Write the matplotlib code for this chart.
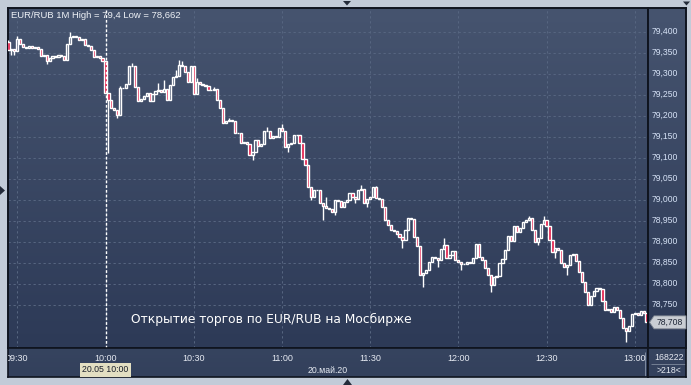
import numpy as np
import pandas as pd
import matplotlib
matplotlib.use("Agg")
import matplotlib.pyplot as plt
import matplotlib.dates as mdates
from matplotlib.colors import to_rgb
from matplotlib.patches import Polygon

# EUR/RUB, 1 minute candles, 20.05.2020 starting 09:27
first_open = 79.375
closes = [
    79.356, 79.359, 79.354, 79.383, 79.371, 79.364, 79.361, 79.366, 79.361, 79.364,
    79.359, 79.342, 79.345, 79.330, 79.337, 79.342, 79.340, 79.345, 79.342, 79.333,
    79.371, 79.387, 79.390, 79.387, 79.380, 79.383, 79.368, 79.366, 79.356, 79.340,
    79.342, 79.337, 79.330, 79.254, 79.237, 79.218, 79.214, 79.202, 79.266, 79.266,
    79.275, 79.318, 79.318, 79.268, 79.235, 79.240, 79.247, 79.254, 79.235, 79.252,
    79.259, 79.261, 79.256, 79.264, 79.237,
    79.273, 79.292, 79.295, 79.321, 79.318,
    79.304, 79.280, 79.318, 79.252, 79.280, 79.275, 79.273, 79.271, 79.261, 79.261,
    79.264, 79.237, 79.218, 79.183, 79.187, 79.190, 79.187, 79.159, 79.159, 79.135,
    79.137, 79.133, 79.106, 79.114, 79.142, 79.128, 79.133, 79.164, 79.164, 79.147,
    79.152, 79.149, 79.171, 79.164, 79.126, 79.133, 79.135, 79.154, 79.154, 79.135,
    79.097, 79.083, 79.030, 79.006,
    79.023, 79.023, 78.992, 78.985, 78.980, 78.978,
    78.971, 78.999, 78.997, 78.983, 78.995, 78.999, 79.016, 79.006, 79.002, 79.023,
    79.025, 78.992, 79.002, 79.006, 79.030, 79.004, 79.002, 78.983, 78.952, 78.940,
    78.928, 78.925, 78.918, 78.911, 78.904, 78.928, 78.957, 78.954, 78.911, 78.890,
    78.821, 78.826, 78.833, 78.852, 78.864, 78.861, 78.857, 78.883, 78.892, 78.861,
    78.868, 78.878, 78.857, 78.852, 78.847, 78.847, 78.852, 78.850,
    78.861, 78.895,
    78.864, 78.857, 78.838, 78.821, 78.797, 78.816, 78.818, 78.850, 78.859, 78.880,
    78.914, 78.902, 78.937, 78.923, 78.933, 78.947, 78.952, 78.957, 78.928, 78.899,
    78.909, 78.942, 78.952, 78.937, 78.904, 78.876, 78.885, 78.880, 78.850, 78.840,
    78.845, 78.868, 78.871, 78.854, 78.828, 78.804, 78.780, 78.749, 78.771, 78.783,
    78.790, 78.787, 78.759, 78.737, 78.740, 78.733, 78.745, 78.737, 78.718, 78.694,
    78.687, 78.699, 78.728, 78.730, 78.725, 78.735, 78.730, 78.708,
]
# wicks that stick out of the body (candle index -> price)
highs = {0: 79.380, 3: 79.390, 21: 79.400, 38: 79.271, 42: 79.325, 51: 79.278,
         53: 79.285, 57: 79.309, 58: 79.333, 59: 79.330, 64: 79.290, 70: 79.268,
         75: 79.195, 88: 79.173, 93: 79.180, 108: 79.006, 120: 79.035, 125: 79.033,
         148: 78.909, 177: 78.961, 182: 78.961}
lows = {1: 79.345, 2: 79.345, 13: 79.322, 34: 79.111, 37: 79.195, 83: 79.095,
        95: 79.114, 103: 78.999, 107: 78.952, 111: 78.964, 118: 78.992, 122: 78.983,
        134: 78.885, 141: 78.792, 146: 78.840, 154: 78.833, 164: 78.780, 180: 78.892,
        186: 78.861, 190: 78.821, 210: 78.662}

price_levels = [79.40, 79.35, 79.30, 79.25, 79.20, 79.15, 79.10, 79.05, 79.00,
                78.95, 78.90, 78.85, 78.80, 78.75]
time_labels = ["09:30", "10:00", "10:30", "11:00", "11:30", "12:00", "12:30", "13:00"]
last_price = 78.708

W, H = 691, 385
BG_TOP, BG_BOT = "#46546f", "#2d3a57"
RED = "#e2103f"
GRID = "#566580"
EDGE = "#0f141f"


def box(x0, y0, x1, y1):
    # pixel box -> figure fraction
    return [x0 / W, 1 - y1 / H, (x1 - x0) / W, (y1 - y0) / H]


def paint(ax, top, bottom, lw=1.0):
    c0, c1 = np.array(to_rgb(top)), np.array(to_rgb(bottom))
    t = np.linspace(0, 1, 256)[:, None]
    img = (c0 * (1 - t) + c1 * t)[:, None, :]
    ax.imshow(img, extent=[0, 1, 0, 1], transform=ax.transAxes, aspect="auto",
              zorder=0, interpolation="bilinear")
    ax.set_xticks([])
    ax.set_yticks([])
    for s in ax.spines.values():
        s.set_color(EDGE)
        s.set_linewidth(lw)


fig = plt.figure(figsize=(W / 100, H / 100), dpi=100)
fig.patch.set_facecolor("#c2cbd8")

day = "2020-05-20 "
times = pd.date_range(day + "09:27", periods=len(closes), freq="min")
x = mdates.date2num(times)
t0 = mdates.date2num(pd.Timestamp(day + "09:30"))
one_min = 1 / 1440
xlim = (t0 - 3.16 * one_min, t0 + 214.5 * one_min)
ylim = (79.4755 - 348 / 420, 79.4755 - 8 / 420)
tick_x = [mdates.date2num(pd.Timestamp(day + s)) for s in time_labels]

ax = fig.add_axes(box(8, 8, 648, 348))
paint(ax, BG_TOP, BG_BOT, lw=1.4)

for lv in price_levels:
    ax.axhline(lv, color=GRID, lw=0.75, ls=(0, (2.2, 2.6)), zorder=1)
for tx in tick_x:
    ax.axvline(tx, color=GRID, lw=0.75, ls=(0, (2.2, 2.6)), zorder=1)

opens = [first_open] + closes[:-1]
w = 0.74 * one_min
for i, (xi, o, c) in enumerate(zip(x, opens, closes)):
    lo, hi = min(o, c), max(o, c)
    if i in highs and highs[i] > hi:
        ax.vlines(xi, hi, highs[i], color="white", lw=1.0, zorder=3)
    if i in lows and lows[i] < lo:
        ax.vlines(xi, lows[i], lo, color="white", lw=1.0, zorder=3)
    fc = RED if c < o else "none"
    ax.bar(xi, max(hi - lo, 0.0006), bottom=lo, width=w, facecolor=fc,
           edgecolor="white", linewidth=1.0, zorder=4)

# cursor on the 10:00 candle
ax.axvline(tick_x[1], color="white", lw=1.0, ls=(0, (2, 1.4)), zorder=5)
ax.set_xlim(xlim)
ax.set_ylim(ylim)

ax.text(0.004, 0.978, "EUR/RUB 1M High = 79,4 Low = 78,662", transform=ax.transAxes,
        fontsize=6.8, color="#eef1f6", family="Liberation Sans", va="center", zorder=6)
fig.text(271.7 / W, 1 - 319 / H, "Открытие торгов по EUR/RUB на Мосбирже",
         fontsize=8.8, color="white", ha="center", va="center")

# right price scale
ax_r = fig.add_axes(box(648, 8, 686, 348))
paint(ax_r, BG_TOP, BG_BOT, lw=1.4)
ax_r.set_xlim(0, 1)
ax_r.set_ylim(ylim)
for lv in price_levels:
    ax_r.text(3.5 / 38, lv, f"{lv:.3f}".replace(".", ","), transform=ax_r.get_yaxis_transform(),
              fontsize=6.2, color="#d6e2f6", family="Liberation Sans", va="center")
hh = 6.5 / 420
tag = Polygon([(1.5 / 38, last_price), (6 / 38, last_price + hh), (1.0, last_price + hh),
               (1.0, last_price - hh), (6 / 38, last_price - hh)], closed=True,
              transform=ax_r.get_yaxis_transform(), facecolor="#c9cdd3",
              edgecolor="#7a828e", lw=0.6, zorder=5, clip_on=False)
ax_r.add_patch(tag)
ax_r.text(0.57, last_price, f"{last_price:.3f}".replace(".", ","),
          transform=ax_r.get_yaxis_transform(), fontsize=6.2, color="#1e2636",
          family="Liberation Sans", ha="center", va="center", zorder=6)

# bottom time scale
ax_b = fig.add_axes(box(8, 348, 648, 377))
paint(ax_b, "#36445f", "#33405c", lw=1.2)
ax_b.set_xlim(xlim)
ax_b.set_ylim(0, 1)
for tx, lab in zip(tick_x, time_labels):
    ax_b.text(tx, 0.64, lab, fontsize=6.5, color="#e6eaf2", family="Liberation Sans",
              ha="center", va="center", clip_on=True)
ax_b.text(0.5, 0.24, "20.май.20", transform=ax_b.transAxes, fontsize=6.3,
          color="#e6eaf2", family="Liberation Sans", ha="center", va="center")
ax_b.text(tick_x[1], 0.25, "20.05 10:00", fontsize=6.3, color="#1a1f2a",
          family="Liberation Sans", ha="center", va="center",
          bbox=dict(boxstyle="square,pad=0.3", fc="#e3dfc2", ec="none"))
ax_b.vlines(t0 + 213.6 * one_min, 0.05, 0.85, color="#8a96aa", lw=0.6)

# corner box
ax_c = fig.add_axes(box(648, 348, 686, 377))
paint(ax_c, "#36445f", "#33405c", lw=1.2)
ax_c.set_xlim(0, 1)
ax_c.set_ylim(0, 1)
ax_c.text(0.55, 0.66, "168222", fontsize=6.3, color="#e6eaf2", family="Liberation Sans",
          ha="center", va="center")
ax_c.hlines(0.46, 0.08, 1.0, color="#7d899c", lw=0.6)
ax_c.text(0.55, 0.22, ">218<", fontsize=6.3, color="#e6eaf2", family="Liberation Sans",
          ha="center", va="center")

# little scroll markers in the frame
for pts in ([(343, 1), (351, 1), (347, 5.5)], [(343, 385), (352, 385), (347.5, 379)],
            [(0, 186), (0, 195), (5, 190.5)], [(683, 1.5), (690, 1.5), (686.5, 5.5)]):
    fig.patches.append(Polygon([(px / W, 1 - py / H) for px, py in pts], closed=True,
                               transform=fig.transFigure, facecolor="#242b3a",
                               edgecolor="none"))

fig.savefig("out.png", dpi=100, facecolor=fig.get_facecolor())
